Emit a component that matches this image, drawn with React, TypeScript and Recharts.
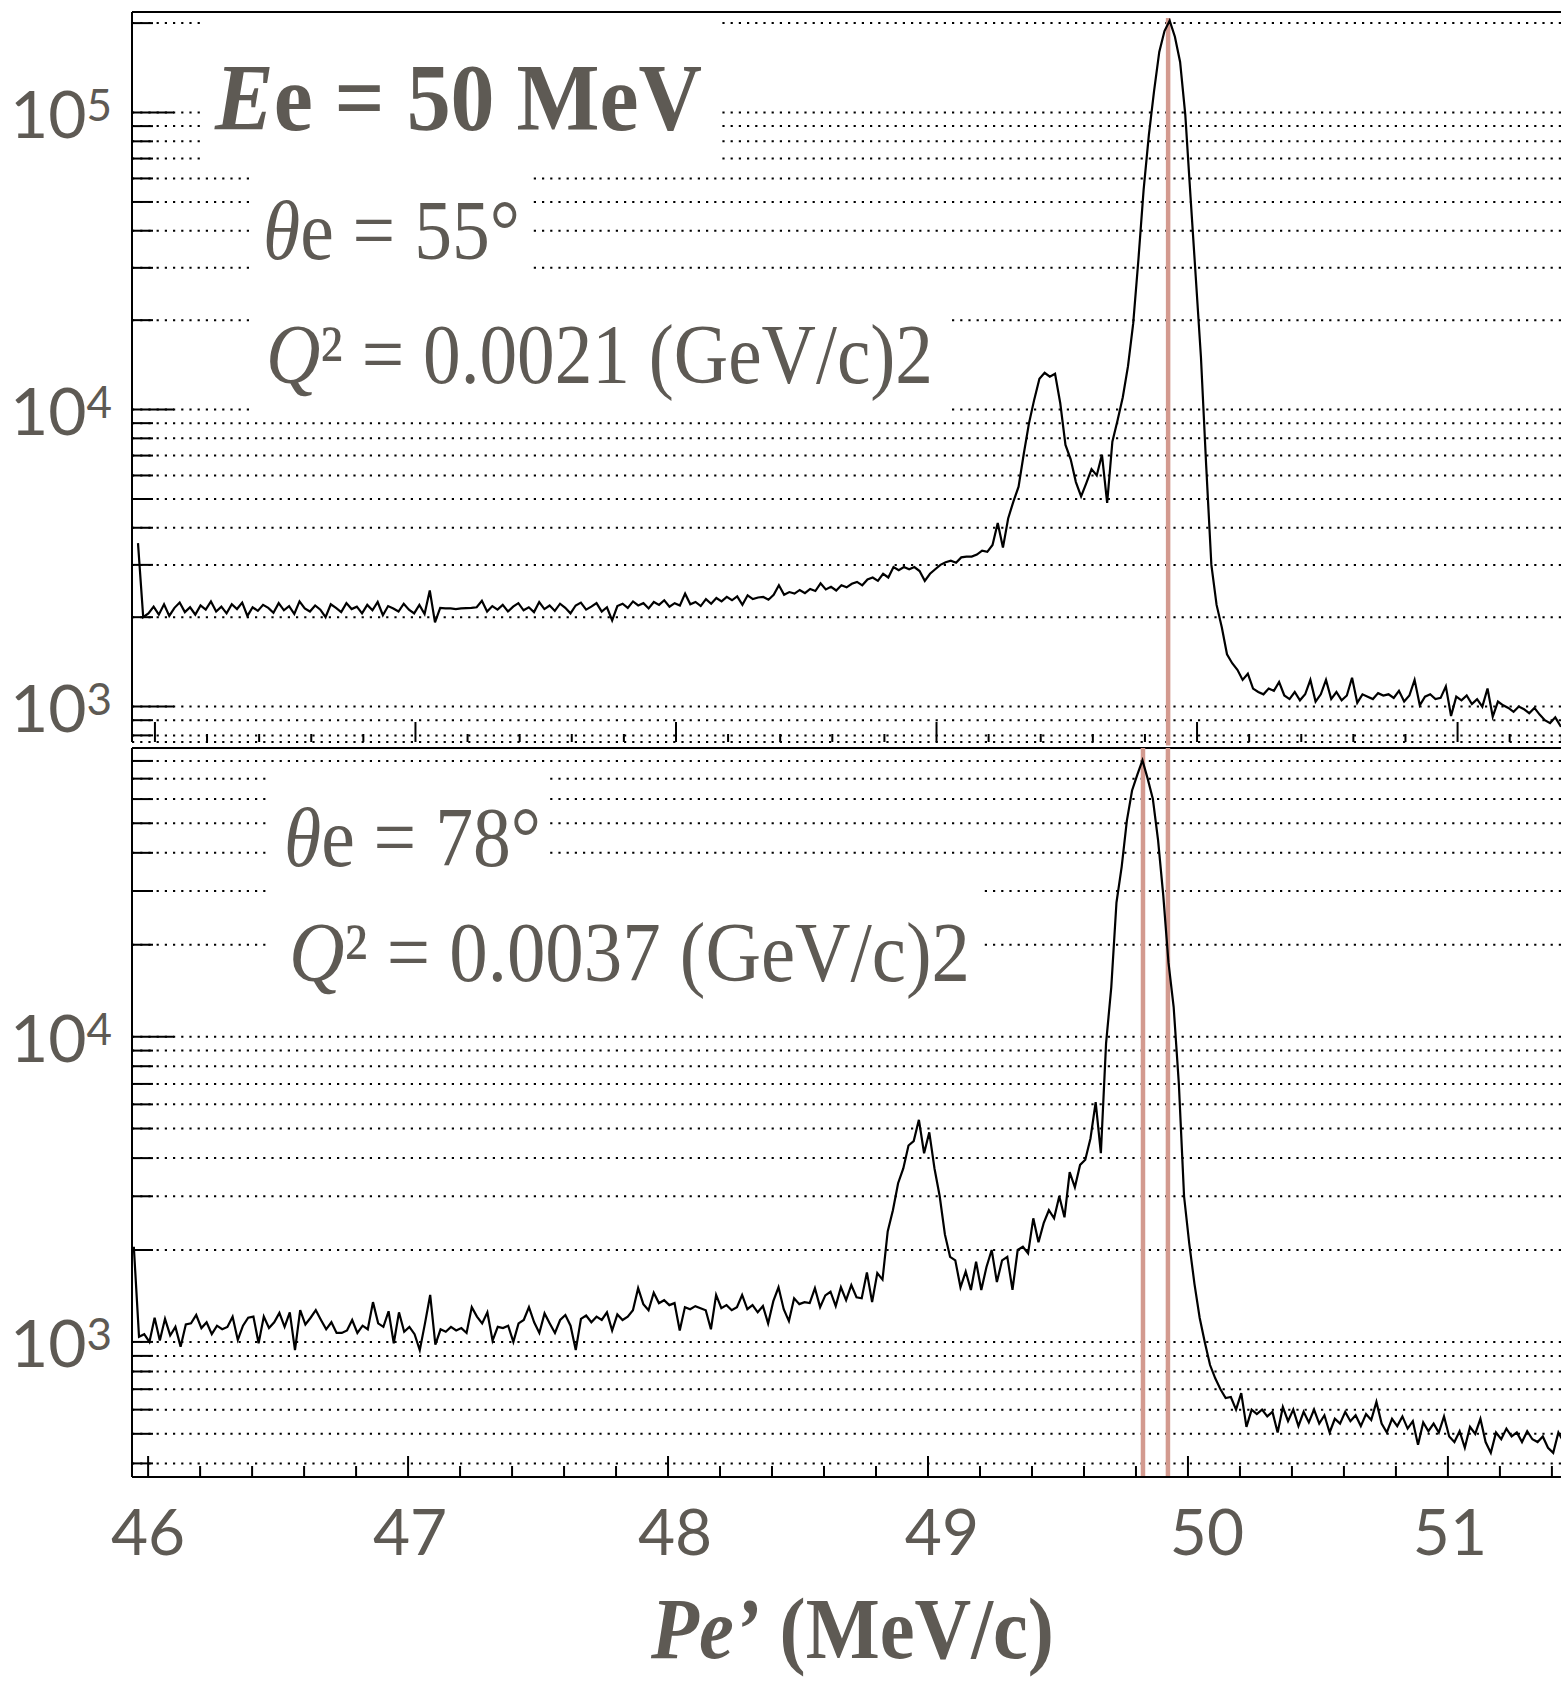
import React from 'react';
import { LineChart, Line, XAxis, YAxis, CartesianGrid, ReferenceLine } from 'recharts';

const INK = '#5e5a54';
const ROSE = '#d39a8f';
const SANS = "'Liberation Sans Narrow', Lato, sans-serif";
const SERIF = "'Liberation Serif', 'DejaVu Serif', serif";

// histogram bins, 0.02 MeV/c wide
const BIN_WIDTH = 0.02;
const TOP_FIRST_BIN = 45.935;
const BOTTOM_FIRST_BIN = 45.945;

// theta_e = 55 deg
const topCounts = [
  3550, 2000, 2060, 2170, 2040, 2210, 2020, 2150, 2240, 2080,
  2160, 2040, 2190, 2120, 2260, 2090, 2170, 2060, 2210, 2130,
  2240, 2020, 2160, 2100, 2200, 2150, 2070, 2230, 2110, 2180,
  2050, 2260, 2140, 2090, 2190, 2120, 2000, 2210, 2150, 2080,
  2230, 2130, 2170, 2060, 2200, 2110, 2250, 2030, 2180, 2140,
  2090, 2220, 2120, 2060, 2200, 2050, 2460, 1920, 2150, 2140,
  2140, 2130, 2140, 2145, 2150, 2160, 2270, 2090, 2180, 2120,
  2200, 2090, 2170, 2230, 2110, 2160, 2080, 2250, 2130, 2190,
  2100, 2220, 2150, 2060, 2190, 2240, 2120, 2170, 2230, 2090,
  2160, 1950, 2180, 2220, 2150, 2260, 2190, 2230, 2140, 2250,
  2200, 2280, 2170, 2230, 2190, 2400, 2210, 2250, 2180, 2300,
  2220, 2320, 2260, 2340, 2280, 2350, 2200, 2370, 2300, 2330,
  2340, 2290, 2380, 2560, 2380, 2430, 2400, 2470, 2410, 2490,
  2450, 2600, 2480, 2530, 2460, 2560, 2520, 2590, 2630, 2560,
  2680, 2720, 2650, 2800, 2720, 2950, 2880, 2950, 2900, 2950,
  2860, 2650, 2800, 2900, 3000, 3060, 3100, 3050, 3180, 3200,
  3200, 3250, 3350, 3320, 3500, 4150, 3430, 4300, 4900, 5500,
  7100, 9000, 10800, 12700, 13300, 12900, 13200, 10500, 7600, 6800,
  5700, 5100, 5650, 6300, 6000, 7050, 4850, 7800, 9200, 11000,
  14000, 19500, 32000, 55000, 84000, 118000, 160000, 188000, 204000, 180000,
  148000, 98000, 52000, 28000, 15000, 6500, 3000, 2200, 1850, 1500,
  1400, 1330, 1230, 1290, 1150, 1120, 1100, 1150, 1130, 1210,
  1090, 1060, 1120, 1050, 1100, 1230, 1040, 1100, 1230, 1060,
  1120, 1050, 1090, 1250, 1030, 1100, 1080, 1060, 1110, 1090,
  1100, 1070, 1130, 1040, 1090, 1230, 1010, 1080, 1100, 1060,
  1070, 1170, 930, 1080, 1050, 1090, 1020, 1060, 1000, 1150,
  925, 1040, 1010, 990, 960, 1000, 980, 950, 990, 940,
  900, 880, 920, 860, 870,
];

// theta_e = 78 deg
const bottomCounts = [
  2050, 1040, 1060, 1000, 1200, 1010, 1190, 1050, 1120, 965,
  1140, 1150, 1225, 1110, 1160, 1060, 1130, 1100, 1120, 1210,
  1015, 1130, 1200, 1210, 990, 1210, 1110, 1160, 1245, 1120,
  1250, 940, 1270, 1140, 1200, 1270, 1180, 1100, 1160, 1070,
  1070, 1090, 1180, 1070, 1130, 1100, 1350, 1150, 1120, 1260,
  990, 1250, 1080, 1120, 1060, 940, 1150, 1425, 980, 1100,
  1080, 1120, 1090, 1110, 1070, 1300, 1210, 1150, 1250, 1010,
  1120, 1110, 1130, 1000, 1150, 1180, 1300, 1160, 1070, 1240,
  1150, 1070, 1180, 1225, 1130, 940, 1190, 1220, 1160, 1210,
  1180, 1250, 1090, 1230, 1180, 1210, 1270, 1500, 1330, 1270,
  1450, 1340, 1370, 1320, 1340, 1090, 1300, 1280, 1310, 1290,
  1270, 1100, 1425, 1290, 1320, 1270, 1300, 1425, 1280, 1320,
  1250, 1310, 1150, 1360, 1510, 1280, 1170, 1390, 1330, 1350,
  1340, 1500, 1300, 1420, 1460, 1310, 1510, 1370, 1535, 1400,
  1390, 1690, 1350, 1680, 1600, 2300, 2700, 3310, 3700, 4400,
  4550, 5340, 4150, 4860, 3700, 3000, 2250, 1900, 1850, 1510,
  1700, 1480, 1830, 1480, 1760, 2000, 1570, 1850, 1900, 1480,
  2000, 2050, 1950, 2540, 2120, 2450, 2700, 2540, 3000, 2560,
  3600, 3210, 3800, 3950, 4640, 6100, 4150, 9500, 14500, 27500,
  36000, 51000, 64000, 72000, 80400, 70000, 60000, 44000, 29000, 17500,
  12500, 7000, 3000, 2100, 1550, 1200, 995, 840, 760, 700,
  655, 660, 600, 680, 527, 600, 580, 600, 570, 590,
  505, 612, 550, 600, 530, 590, 545, 600, 540, 575,
  505, 560, 540, 590, 550, 575, 530, 580, 555, 636,
  540, 505, 560, 530, 570, 520, 550, 460, 545, 510,
  540, 505, 570, 490, 470, 510, 450, 527, 500, 560,
  470, 433, 505, 480, 520, 490, 505, 470, 510, 480,
  470, 490, 450, 433, 505, 470,
];

const xTicks = [
  46, 46.2, 46.4, 46.6, 46.8, 47, 47.2, 47.4, 47.6, 47.8,
  48, 48.2, 48.4, 48.6, 48.8, 49, 49.2, 49.4, 49.6, 49.8,
  50, 50.2, 50.4, 50.6, 50.8, 51, 51.2, 51.4,
];
const topYTicks = [
  800, 900, 1000, 2000, 3000, 4000, 5000, 6000, 7000, 8000, 9000,
  10000, 20000, 30000, 40000, 50000, 60000, 70000, 80000, 90000, 100000, 200000,
];
const bottomYTicks = [
  400, 500, 600, 700, 800, 900, 1000, 2000, 3000, 4000, 5000, 6000, 7000, 8000, 9000,
  10000, 20000, 30000, 40000, 50000, 60000, 70000, 80000,
];
const topDecades = [1000, 10000, 100000];
const bottomDecades = [1000, 10000];
const topLongTicks = [1000, 10000, 100000];
const bottomLongTicks = [10000];

// elastic peak positions marked in rose
const topMarker = 49.889;
const bottomMarkers = [49.827, 49.923];

const TOP_X_DOMAIN = [45.912, 51.397];
const BOTTOM_X_DOMAIN = [45.938, 51.435];
const TOP_Y_DOMAIN = [760, 218000];
const BOTTOM_Y_DOMAIN = [361, 88200];

// hand placed label nudges from the original figure
const labelShift: Record<number, number> = { 46: 0, 47: 2, 48: 7, 49: 14, 50: 19, 51: 2 };

const toHist = (first: number, counts: number[]) =>
  counts.map((n, i) => ({ p: Math.round((first + i * BIN_WIDTH) * 1000) / 1000, n }));

const topData = toHist(TOP_FIRST_BIN, topCounts);
const bottomData = toHist(BOTTOM_FIRST_BIN, bottomCounts);

const XTick = (props: any) => {
  const { x, y, payload, long, short, withLabels } = props;
  const v = payload.value;
  const whole = Math.abs(v - Math.round(v)) < 1e-6;
  const len = whole ? long : short;
  return (
    <g>
      <line x1={x} x2={x} y1={y} y2={y - len} stroke="#000" strokeWidth={2} />
      {withLabels && whole && (
        <text
          x={x + (labelShift[Math.round(v)] || 0)}
          y={y + 78}
          textAnchor="middle"
          fill={INK}
          fontFamily="Lato, sans-serif"
          fontSize={64}
        >
          {Math.round(v)}
        </text>
      )}
    </g>
  );
};

const YTick = (props: any) => {
  const { x, y, payload, longTicks, labelled } = props;
  const v = payload.value;
  const len = longTicks.includes(v) ? 42 : 21;
  return (
    <g>
      <line x1={x} x2={x + len} y1={y} y2={y} stroke="#000" strokeWidth={2} />
      {labelled.includes(v) && (
        <text x={x - 20} y={y + 25} textAnchor="end" fill={INK} fontFamily={SANS} fontSize={66}>
          10<tspan dy={-17} fontSize={44}>{Math.round(Math.log10(v))}</tspan>
        </text>
      )}
    </g>
  );
};

const App: React.FC = () => {
  return (
    <div style={{ position: 'absolute', left: 0, top: 0, width: 1561, height: 1681, background: '#fff' }}>
      <div style={{ position: 'absolute', left: 0, top: 0 }}>
        <LineChart width={1561} height={760} data={topData} margin={{ top: 12, right: 0, bottom: 0, left: 0 }}>
          <CartesianGrid vertical={false} stroke="#000" strokeWidth={2} strokeDasharray="2.2 6" />
          <XAxis
            dataKey="p"
            type="number"
            domain={TOP_X_DOMAIN}
            allowDataOverflow
            ticks={xTicks}
            interval={0}
            height={18}
            axisLine={false}
            tickLine={false}
            tickSize={0}
            tickMargin={0}
            tick={<XTick long={20} short={8} withLabels={false} />}
          />
          <YAxis
            type="number"
            scale="log"
            domain={TOP_Y_DOMAIN}
            allowDataOverflow
            ticks={topYTicks}
            interval={0}
            width={132}
            axisLine={{ stroke: '#000', strokeWidth: 2 }}
            tickLine={false}
            tickSize={0}
            tickMargin={0}
            tick={<YTick longTicks={topLongTicks} labelled={topDecades} />}
          />
          <ReferenceLine y={TOP_Y_DOMAIN[1]} stroke="#000" strokeWidth={2} />
          <ReferenceLine
            segment={[{ x: topMarker, y: 208000 }, { x: topMarker, y: 740 }]}
            stroke={ROSE}
            strokeWidth={4.5}
            ifOverflow="visible"
          />
          <Line type="linear" dataKey="n" stroke="#000" strokeWidth={2.2} dot={false} activeDot={false} isAnimationActive={false} />
        </LineChart>
      </div>

      <div style={{ position: 'absolute', left: 0, top: 740 }}>
        <LineChart width={1561} height={941} data={bottomData} margin={{ top: 8, right: 0, bottom: 0, left: 0 }}>
          <CartesianGrid vertical={false} stroke="#000" strokeWidth={2} strokeDasharray="2.2 6" />
          <XAxis
            dataKey="p"
            type="number"
            domain={BOTTOM_X_DOMAIN}
            allowDataOverflow
            ticks={xTicks}
            interval={0}
            height={204}
            axisLine={{ stroke: '#000', strokeWidth: 2 }}
            tickLine={false}
            tickSize={0}
            tickMargin={0}
            tick={<XTick long={21} short={11} withLabels />}
          />
          <YAxis
            type="number"
            scale="log"
            domain={BOTTOM_Y_DOMAIN}
            allowDataOverflow
            ticks={bottomYTicks}
            interval={0}
            width={132}
            axisLine={{ stroke: '#000', strokeWidth: 2 }}
            tickLine={false}
            tickSize={0}
            tickMargin={0}
            tick={<YTick longTicks={bottomLongTicks} labelled={bottomDecades} />}
          />
          <ReferenceLine y={BOTTOM_Y_DOMAIN[1]} stroke="#000" strokeWidth={2} />
          {bottomMarkers.map((m) => (
            <ReferenceLine key={m} x={m} stroke={ROSE} strokeWidth={4.5} />
          ))}
          <Line type="linear" dataKey="n" stroke="#000" strokeWidth={2.2} dot={false} activeDot={false} isAnimationActive={false} />
        </LineChart>
      </div>

      <svg width={1561} height={1681} style={{ position: 'absolute', left: 0, top: 0, pointerEvents: 'none' }}>
        <rect x={202} y={14} width={518} height={155} fill="#fff" />
        <rect x={249} y={169} width={282} height={121} fill="#fff" />
        <rect x={249} y={290} width={700} height={126} fill="#fff" />
        <rect x={268} y={769} width={281} height={102} fill="#fff" />
        <rect x={268} y={871} width={713} height={145} fill="#fff" />
        <g fill={INK} fontFamily={SERIF}>
          <text x={215} y={130} fontSize={96} fontWeight="bold" textLength={487} lengthAdjust="spacingAndGlyphs">
            <tspan fontStyle="italic">E</tspan>e = 50 MeV
          </text>
          <text x={263} y={259} fontSize={84} textLength={257} lengthAdjust="spacingAndGlyphs">
            <tspan fontStyle="italic">θ</tspan>e = 55°
          </text>
          <text x={266} y={383} fontSize={84} textLength={667} lengthAdjust="spacingAndGlyphs">
            <tspan fontStyle="italic">Q</tspan>² = 0.0021 (GeV/c)2
          </text>
          <text x={284} y={866} fontSize={84} textLength={257} lengthAdjust="spacingAndGlyphs">
            <tspan fontStyle="italic">θ</tspan>e = 78°
          </text>
          <text x={289} y={981} fontSize={84} textLength={681} lengthAdjust="spacingAndGlyphs">
            <tspan fontStyle="italic">Q</tspan>² = 0.0037 (GeV/c)2
          </text>
          <text x={651} y={1658} fontSize={86} fontWeight="bold" textLength={403} lengthAdjust="spacingAndGlyphs">
            <tspan fontStyle="italic">Pe’</tspan> (MeV/c)
          </text>
        </g>
      </svg>
    </div>
  );
};

export default App;
